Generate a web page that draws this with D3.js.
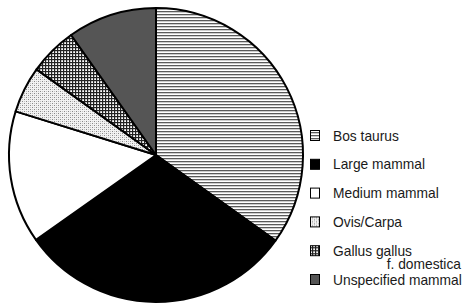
<!DOCTYPE html>
<html>
<head>
<meta charset="utf-8">
<script src="https://cdn.jsdelivr.net/npm/d3@7"></script>
<style>
body { margin: 0; background: #fff; }
svg { display: block; }
text { font-family: "Liberation Sans", Arial, sans-serif; }
</style>
</head>
<body>
<svg id="chart" width="465" height="304"></svg>
<script>
// share of finds per taxon (%)
var categories = ["Bos taurus", "Large mammal", "Medium mammal", "Ovis/Carpa", "Gallus gallus f. domestica", "Unspecified mammal"];
var values = [34.9, 30.3, 14.6, 5.1, 5.3, 9.8];
var legendLines = [["Bos taurus"], ["Large mammal"], ["Medium mammal"], ["Ovis/Carpa"], ["Gallus gallus", "f. domestica"], ["Unspecified mammal"]];
var fills = ["url(#stripes)", "#000", "#fff", "url(#dots)", "url(#grid)", "#555"];

var svg = d3.select("#chart");
var defs = svg.append("defs");

// horizontal stripes
var p1 = defs.append("pattern").attr("id", "stripes").attr("patternUnits", "userSpaceOnUse")
	.attr("width", 4).attr("height", 3);
p1.append("rect").attr("width", 4).attr("height", 3).attr("fill", "#fff");
p1.append("rect").attr("y", 0).attr("width", 4).attr("height", 1.3).attr("fill", "#5a5a5a");

// light dotted
var p2 = defs.append("pattern").attr("id", "dots").attr("patternUnits", "userSpaceOnUse")
	.attr("width", 4).attr("height", 4);
p2.append("rect").attr("width", 4).attr("height", 4).attr("fill", "#f2f2f2");
p2.append("rect").attr("x", 0).attr("y", 0).attr("width", 1).attr("height", 1).attr("fill", "#888");
p2.append("rect").attr("x", 2).attr("y", 2).attr("width", 1).attr("height", 1).attr("fill", "#888");
p2.append("rect").attr("x", 2).attr("y", 0).attr("width", 1).attr("height", 1).attr("fill", "#c4c4c4");
p2.append("rect").attr("x", 0).attr("y", 2).attr("width", 1).attr("height", 1).attr("fill", "#c4c4c4");

// cross hatch grid
var p3 = defs.append("pattern").attr("id", "grid").attr("patternUnits", "userSpaceOnUse")
	.attr("width", 3).attr("height", 3);
p3.append("rect").attr("width", 3).attr("height", 3).attr("fill", "#fff");
p3.append("rect").attr("width", 3).attr("height", 1.2).attr("fill", "#222");
p3.append("rect").attr("width", 1.2).attr("height", 3).attr("fill", "#222");

var cx = 156, cy = 155, r = 147;

var pie = d3.pie().sort(null).value(function(d){ return d; });
var arc = d3.arc().innerRadius(0).outerRadius(r);

svg.append("g")
	.attr("transform", "translate(" + cx + "," + cy + ")")
	.selectAll("path")
	.data(pie(values))
	.enter().append("path")
	.attr("d", arc)
	.attr("fill", function(d, i){ return fills[i]; })
	.attr("stroke", "#000")
	.attr("stroke-width", 2)
	.attr("stroke-linejoin", "round");

// legend
var ly = d3.scaleLinear().domain([0, categories.length - 1]).range([135, 279]);
var legend = svg.append("g");
var rows = legend.selectAll("g")
	.data(categories)
	.enter().append("g")
	.attr("transform", function(d, i){ return "translate(0," + ly(i) + ")"; });

rows.append("rect")
	.attr("x", 310.5).attr("y", -4.5)
	.attr("width", 9).attr("height", 10)
	.attr("fill", function(d, i){ return fills[i]; })
	.attr("stroke", "#000")
	.attr("stroke-width", 1);

// text is a little condensed in the original
rows.each(function(d, i){
	var g = d3.select(this);
	var lines = legendLines[i];
	g.append("text")
		.attr("transform", "translate(333,5.5) scale(0.92,1)")
		.attr("font-size", "15px")
		.attr("fill", "#1a1a1a")
		.text(lines[0]);
	if(lines.length > 1){
		g.append("text")
			.attr("transform", "translate(461,19) scale(0.92,1)")
			.attr("text-anchor", "end")
			.attr("font-size", "15px")
			.attr("fill", "#1a1a1a")
			.text(lines[1]);
	}
});
</script>
</body>
</html>
